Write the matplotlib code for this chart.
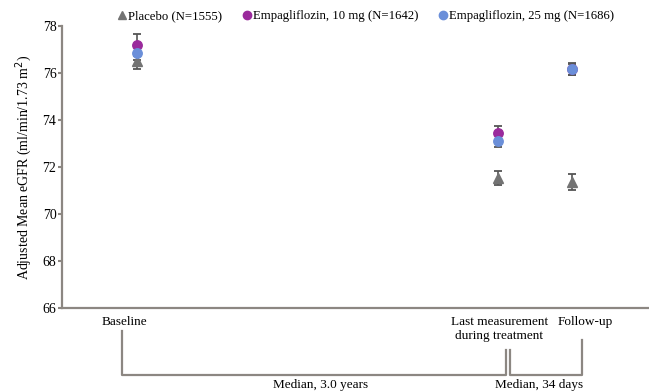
import matplotlib
matplotlib.use("Agg")
import matplotlib.pyplot as plt
from matplotlib.lines import Line2D

plt.rcParams['font.family'] = ['Liberation Serif', 'DejaVu Serif']

# visit positions on the x axis (baseline, last on-treatment, follow-up)
visits = [0.0, 1.0, 1.205]
visit_labels = ["Baseline", "Last measurement\nduring treatment", "Follow-up"]
label_x = [-0.036, 1.003, 1.241]

groups = ["Placebo (N=1555)", "Empagliflozin, 10 mg (N=1642)", "Empagliflozin, 25 mg (N=1686)"]
placebo = [76.52, 71.55, 71.37]
placebo_err = [0.36, 0.3, 0.33]
empa10 = [77.19, 73.43, 76.15]
empa10_err = [0.45, 0.3, 0.25]
empa25 = [76.86, 73.1, 76.17]
empa25_err = [0.3, 0.26, 0.25]

colors = ["#737373", "#9a2a9c", "#6b8fd9"]
markers = ["^", "o", "o"]

fig = plt.figure(figsize=(6.49, 3.91), dpi=100)
ax = fig.add_axes([62 / 649, 1 - 308 / 391, 1 - 62 / 649, (308 - 26) / 391])

for vals, errs, col, mk in zip([placebo, empa10, empa25],
                               [placebo_err, empa10_err, empa25_err], colors, markers):
    ax.errorbar(visits, vals, yerr=errs, fmt=mk, color=col, ms=6.8 if mk == "o" else 7.2,
                mec=col, ecolor="#555555", elinewidth=1.2, capsize=3, capthick=1.3, zorder=3)

ax.set_ylim(66, 78)
ax.set_xlim(-0.2078, 1.418)
ax.set_yticks(range(66, 79, 2))
ax.set_xticks([])
ax.tick_params(axis='y', direction='out', length=3, width=1.5, color="#8c8782",
               labelsize=10, pad=1)
for s in ["top", "right"]:
    ax.spines[s].set_visible(False)
for s in ["left", "bottom"]:
    ax.spines[s].set_color("#8c8782")
    ax.spines[s].set_linewidth(1.6)

ax.set_ylabel("Adjusted Mean eGFR (ml/min/1.73 m$^2$)", fontsize=10, labelpad=6)

# visit labels under the axis
for x, t in zip(label_x, visit_labels):
    ax.text(x, -0.03, t, transform=ax.get_xaxis_transform(), ha="center", va="top",
            fontsize=9.5, linespacing=1.15)


def below(py):
    # pixel row under the axis -> axes fraction
    return -(py - 308) / 282


# brackets marking the treatment and follow-up periods
tr = ax.get_xaxis_transform()
br = dict(color="#8c8782", lw=1.6, transform=tr, clip_on=False)
ax.plot([-0.0416, -0.0416, 1.022, 1.022], [below(331), below(375), below(375), below(350)], **br)
ax.plot([1.033, 1.033, 1.233, 1.233], [below(350), below(375), below(375), below(340)], **br)
ax.text(0.507, below(385), "Median, 3.0 years", transform=tr, ha="center", va="center", fontsize=9.5)
ax.text(1.114, below(385), "Median, 34 days", transform=tr, ha="center", va="center", fontsize=9.5)

handles = [Line2D([], [], marker=m, ls="none", color=c, ms=6) for m, c in zip(markers, colors)]
fig.legend(handles, groups, loc="center left", bbox_to_anchor=(118 / 649, 1 - 16 / 391), ncol=3,
           frameon=False, fontsize=9.2, handlelength=0.6, handletextpad=0.2, columnspacing=1.6,
           borderpad=0, borderaxespad=0)

fig.savefig("out.png", dpi=100)
